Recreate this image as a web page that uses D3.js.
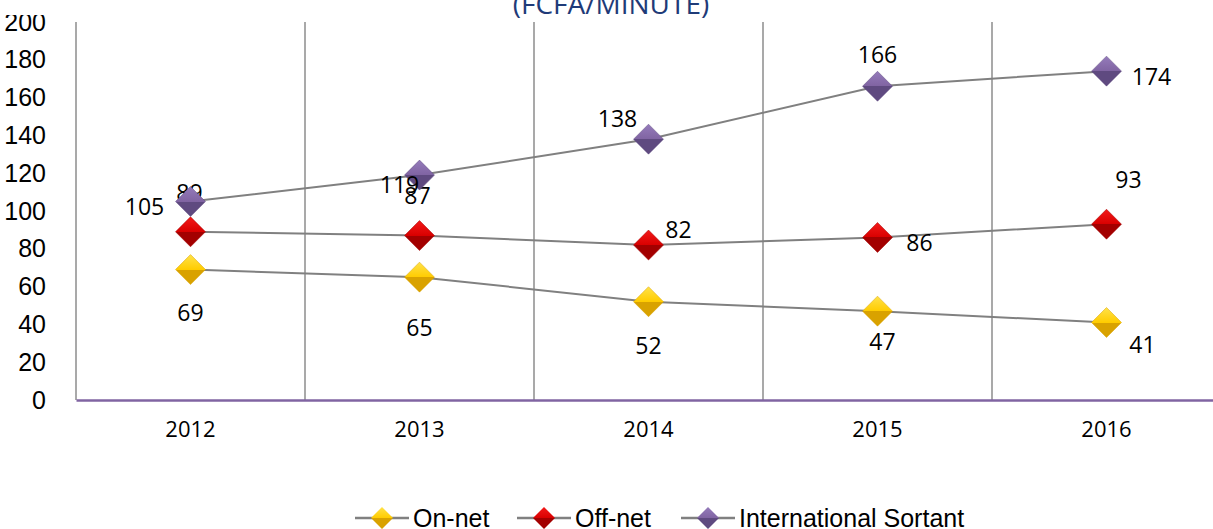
<!DOCTYPE html>
<html>
<head>
<meta charset="utf-8">
<script src="https://cdn.jsdelivr.net/npm/d3@7"></script>
<style>
  body { margin: 0; background: #fff; }
  svg { display: block; font-family: "Open Sans", sans-serif; }
</style>
</head>
<body>
<script>
// chart data
const years = ["2012", "2013", "2014", "2015", "2016"];
const onNet = [69, 65, 52, 47, 41];
const offNet = [89, 87, 82, 86, 93];
const intlSortant = [105, 119, 138, 166, 174];
const yTicks = [0, 20, 40, 60, 80, 100, 120, 140, 160, 180, 200];
const seriesNames = ["On-net", "Off-net", "International Sortant"];

// label offsets from each point, [dx, dy] (hand placed in the original)
const onNetLabelPos = [[0, 43], [0, 51], [0, 44], [5, 31], [36, 22]];
const offNetLabelPos = [[-1, -39], [-2, -40], [30, -15], [42, 5], [22, -44]];
const intlLabelPos = [[-46, 5], [-20, 10], [-31, -20], [0, -31], [45, 6]];

const width = 1213, height = 529;
const margin = {left: 76, top: 22, bottom: 129};

const series = [
    {name: seriesNames[0], values: onNet, pos: onNetLabelPos, fill: "#ffcc00", light: "#ffe24a", dark: "#d9a200"},
    {name: seriesNames[1], values: offNet, pos: offNetLabelPos, fill: "#d90000", light: "#f21a1a", dark: "#a30000"},
    {name: seriesNames[2], values: intlSortant, pos: intlLabelPos, fill: "#8064a2", light: "#957bbb", dark: "#5f4a80"}
];

let svg = d3.select("body").append("svg")
    .attr("width", width)
    .attr("height", height);

let x = d3.scaleBand()
    .domain(years)
    .range([margin.left, 1221]);

let y = d3.scaleLinear()
    .domain([0, 200])
    .range([height - margin.bottom, margin.top]);

let cx = d => x(d) + x.bandwidth() / 2;

let defs = svg.append("defs");

// the original picture cuts the top of the "200" label
defs.append("clipPath")
    .attr("id", "yclip")
    .append("rect")
    .attr("x", -margin.left).attr("y", 15)
    .attr("width", margin.left).attr("height", height);

// gradients for the 3d diamonds
series.forEach((s, i) => {
    let g = defs.append("linearGradient")
        .attr("id", "grad" + i)
        .attr("x1", 0).attr("y1", 0).attr("x2", 0).attr("y2", 1);
    g.append("stop").attr("offset", "0%").attr("stop-color", s.light);
    g.append("stop").attr("offset", "50%").attr("stop-color", s.fill);
    g.append("stop").attr("offset", "50%").attr("stop-color", s.dark);
    g.append("stop").attr("offset", "100%").attr("stop-color", s.dark);
});

// title (cut off at the top in the original)
svg.append("text")
    .attr("x", 611)
    .attr("y", 14)
    .attr("text-anchor", "middle")
    .attr("fill", "#1f3b78")
    .attr("font-size", 28)
    .text("(FCFA/MINUTE)");

// vertical grid lines between categories
let bounds = years.map(d => x(d)).concat([x.range()[1]]);
svg.append("g")
    .selectAll("line")
    .data(bounds)
    .join("line")
    .attr("x1", d => d).attr("x2", d => d)
    .attr("y1", y(200)).attr("y2", y(0))
    .attr("stroke", "#8c8c8c")
    .attr("stroke-width", 1.5);

// y axis labels
let yAxis = svg.append("g")
    .attr("transform", `translate(${margin.left},0)`)
    .attr("clip-path", "url(#yclip)")
    .call(d3.axisLeft(y).tickValues(yTicks).tickSize(0).tickPadding(30));
yAxis.select(".domain").remove();
yAxis.selectAll("text")
    .attr("font-family", "'Liberation Sans', sans-serif")
    .attr("font-size", 25)
    .attr("fill", "#000");

// x axis
let xAxis = svg.append("g")
    .attr("transform", `translate(0,${y(0)})`)
    .call(d3.axisBottom(x).tickSize(0).tickPadding(21));
xAxis.select(".domain")
    .attr("stroke", "#8064a2")
    .attr("stroke-width", 2.5);
xAxis.selectAll("text")
    .attr("font-family", "Open Sans, sans-serif")
    .attr("font-size", 22)
    .attr("fill", "#000");

let line = d3.line()
    .x((d, i) => cx(years[i]))
    .y(d => y(d));

function diamond(sel, r) {
    return sel.attr("d", `M0,${-r}L${r},0L0,${r}L${-r},0Z`);
}

series.forEach((s, i) => {
    let g = svg.append("g");
    g.append("path")
        .datum(s.values)
        .attr("fill", "none")
        .attr("stroke", "#808080")
        .attr("stroke-width", 2)
        .attr("d", line);

    g.selectAll("path.pt")
        .data(s.values)
        .join("path")
        .attr("class", "pt")
        .call(diamond, 15)
        .attr("transform", (d, j) => `translate(${cx(years[j])},${y(d)})`)
        .attr("fill", `url(#grad${i})`)
        .attr("stroke", s.dark)
        .attr("stroke-width", 0.5);

    g.selectAll("text")
        .data(s.values)
        .join("text")
        .attr("x", (d, j) => cx(years[j]) + s.pos[j][0])
        .attr("y", (d, j) => y(d) + s.pos[j][1])
        .attr("dy", "0.35em")
        .attr("text-anchor", "middle")
        .attr("font-size", 23)
        .attr("fill", "#000")
        .text(d => d);
});

// legend
let legendX = [355, 517, 681];
let legend = svg.append("g")
    .attr("transform", "translate(0,518)");
series.forEach((s, i) => {
    let lg = legend.append("g").attr("transform", `translate(${legendX[i]},0)`);
    lg.append("line")
        .attr("x1", 0).attr("x2", 54)
        .attr("stroke", "#808080").attr("stroke-width", 2.5);
    lg.append("path")
        .call(diamond, 11)
        .attr("transform", "translate(27,0)")
        .attr("fill", `url(#grad${i})`);
    lg.append("text")
        .attr("x", 58)
        .attr("dy", "0.35em")
        .attr("font-size", 25)
        .attr("font-family", "'Liberation Sans', sans-serif")
        .attr("fill", "#000")
        .text(s.name);
});
</script>
</body>
</html>
